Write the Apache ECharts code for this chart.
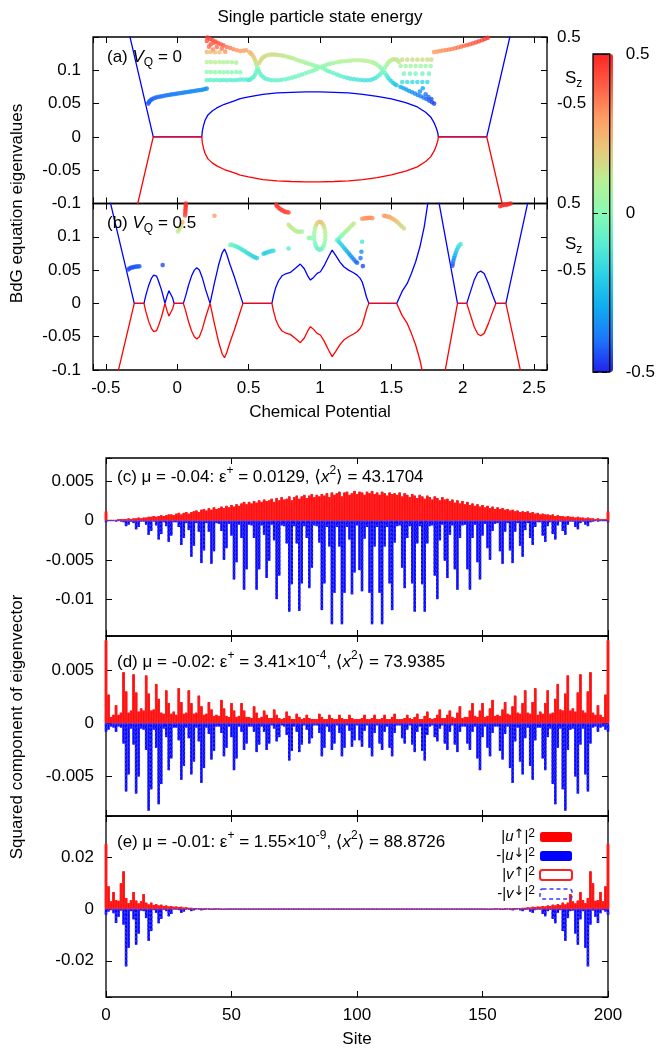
<!DOCTYPE html>
<html>
<head>
<meta charset="utf-8">
<script src="https://cdn.jsdelivr.net/npm/echarts@6/dist/echarts.min.js"></script>
<style>
html,body{margin:0;padding:0;background:#ffffff;}
#chart{width:658px;height:1053px;}
</style>
</head>
<body>
<div id="chart"></div>
<script>
// ================= DATA =================
// Panel (a) V_Q = 0 : lowest BdG eigenvalue (+E, blue) and its partner (-E, red) vs chemical potential
const aPosE = [[-0.333,0.152],[-0.168,0],[0.172,0],[0.176,0.009],[0.184,0.017],[0.195,0.025],[0.215,0.033],[0.245,0.039],[0.277,0.0435],[0.33,0.049],[0.4,0.054],[0.441,0.0575],[0.5,0.06],[0.6,0.064],[0.7,0.066],[0.8,0.067],[0.9,0.0675],[1.0,0.0675],[1.1,0.067],[1.2,0.066],[1.3,0.064],[1.4,0.061],[1.5,0.057],[1.6,0.0515],[1.682,0.045],[1.74,0.037],[1.775,0.03],[1.8,0.021],[1.815,0.013],[1.825,0.006],[1.829,0],[2.168,0],[2.332,0.152]];
const aNegE = [[-0.333,-0.152],[-0.168,0],[0.172,0],[0.176,-0.009],[0.184,-0.017],[0.195,-0.025],[0.215,-0.033],[0.245,-0.039],[0.277,-0.0435],[0.33,-0.049],[0.4,-0.054],[0.441,-0.0575],[0.5,-0.06],[0.6,-0.064],[0.7,-0.066],[0.8,-0.067],[0.9,-0.0675],[1.0,-0.0675],[1.1,-0.067],[1.2,-0.066],[1.3,-0.064],[1.4,-0.061],[1.5,-0.057],[1.6,-0.0515],[1.682,-0.045],[1.74,-0.037],[1.775,-0.03],[1.8,-0.021],[1.815,-0.013],[1.825,-0.006],[1.829,0],[2.168,0],[2.332,-0.152]];
// Panel (b) V_Q = 0.5
const bPosE = [[-0.47,0.153],[-0.301,0],[-0.233,0],[-0.22,0.012],[-0.2,0.027],[-0.18,0.038],[-0.165,0.0425],[-0.156,0.0435],[-0.145,0.041],[-0.13,0.033],[-0.11,0.02],[-0.095,0.008],[-0.086,0],[-0.07,0.012],[-0.058,0.019],[-0.051,0.02],[-0.044,0.017],[-0.032,0.008],[-0.022,0],[0.043,0],[0.06,0.012],[0.08,0.028],[0.1,0.041],[0.12,0.05],[0.137,0.0535],[0.155,0.05],[0.175,0.039],[0.2,0.02],[0.23,0],[0.26,0.03],[0.29,0.058],[0.315,0.076],[0.331,0.0815],[0.345,0.075],[0.37,0.058],[0.4,0.04],[0.43,0.02],[0.46,0],[0.663,0],[0.675,0.012],[0.69,0.024],[0.71,0.034],[0.734,0.0415],[0.76,0.0445],[0.792,0.0465],[0.83,0.053],[0.862,0.059],[0.89,0.052],[0.915,0.041],[0.933,0.035],[0.955,0.039],[0.98,0.045],[1.003,0.0475],[1.03,0.057],[1.06,0.07],[1.085,0.08],[1.11,0.072],[1.14,0.062],[1.167,0.055],[1.2,0.05],[1.235,0.046],[1.26,0.0425],[1.28,0.038],[1.295,0.0325],[1.31,0.022],[1.325,0.01],[1.342,0],[1.537,0],[1.575,0.018],[1.611,0.03],[1.64,0.045],[1.67,0.0625],[1.7,0.085],[1.73,0.115],[1.757,0.153],[1.832,0.153],[1.963,0],[2.028,0],[2.05,0.015],[2.08,0.035],[2.105,0.046],[2.126,0.0485],[2.15,0.045],[2.18,0.03],[2.21,0.012],[2.232,0],[2.302,0],[2.457,0.153]];
const bNegE = [[-0.47,-0.153],[-0.301,0],[-0.233,0],[-0.22,-0.012],[-0.2,-0.027],[-0.18,-0.038],[-0.165,-0.0425],[-0.156,-0.0435],[-0.145,-0.041],[-0.13,-0.033],[-0.11,-0.02],[-0.095,-0.008],[-0.086,0],[-0.07,-0.012],[-0.058,-0.019],[-0.051,-0.02],[-0.044,-0.017],[-0.032,-0.008],[-0.022,0],[0.043,0],[0.06,-0.012],[0.08,-0.028],[0.1,-0.041],[0.12,-0.05],[0.137,-0.0535],[0.155,-0.05],[0.175,-0.039],[0.2,-0.02],[0.23,0],[0.26,-0.03],[0.29,-0.058],[0.315,-0.076],[0.331,-0.0815],[0.345,-0.075],[0.37,-0.058],[0.4,-0.04],[0.43,-0.02],[0.46,0],[0.663,0],[0.675,-0.012],[0.69,-0.024],[0.71,-0.034],[0.734,-0.0415],[0.76,-0.0445],[0.792,-0.0465],[0.83,-0.053],[0.862,-0.059],[0.89,-0.052],[0.915,-0.041],[0.933,-0.035],[0.955,-0.039],[0.98,-0.045],[1.003,-0.0475],[1.03,-0.057],[1.06,-0.07],[1.085,-0.08],[1.11,-0.072],[1.14,-0.062],[1.167,-0.055],[1.2,-0.05],[1.235,-0.046],[1.26,-0.0425],[1.28,-0.038],[1.295,-0.0325],[1.31,-0.022],[1.325,-0.01],[1.342,0],[1.537,0],[1.575,-0.018],[1.611,-0.03],[1.64,-0.045],[1.67,-0.0625],[1.7,-0.085],[1.73,-0.115],[1.757,-0.153],[1.832,-0.153],[1.963,0],[2.028,0],[2.05,-0.015],[2.08,-0.035],[2.105,-0.046],[2.126,-0.0485],[2.15,-0.045],[2.18,-0.03],[2.21,-0.012],[2.232,0],[2.302,0],[2.457,-0.153]];

// Single particle states: [chemical potential, energy, S_z]
const aStates = [
[-0.203,0.050,-0.43],[-0.199,0.052,-0.43],[-0.193,0.054,-0.42],[-0.185,0.0555,-0.42],[-0.175,0.057,-0.42],[-0.163,0.058,-0.41],[-0.15,0.059,-0.41],[-0.135,0.06,-0.41],[-0.12,0.0605,-0.4],[-0.105,0.061,-0.4],[-0.09,0.0617,-0.4],[-0.075,0.0625,-0.39],[-0.06,0.063,-0.39],[-0.045,0.0635,-0.39],[-0.03,0.064,-0.38],[-0.015,0.0645,-0.38],[0,0.065,-0.38],[0.015,0.0655,-0.37],[0.03,0.066,-0.37],[0.045,0.0665,-0.37],[0.06,0.067,-0.37],[0.075,0.0675,-0.36],[0.09,0.068,-0.36],[0.105,0.0685,-0.36],[0.12,0.069,-0.36],[0.135,0.0695,-0.35],[0.15,0.07,-0.35],[0.165,0.0705,-0.35],[0.18,0.071,-0.35],[0.195,0.072,-0.35],[0.207,0.0725,-0.35],
[0.195,0.151,0.47],[0.211,0.149,0.46],[0.23,0.147,0.45],[0.249,0.145,0.44],[0.268,0.143,0.43],[0.286,0.141,0.42],[0.305,0.139,0.41],[0.324,0.1375,0.4],
[0.347,0.135,0.37],[0.371,0.1335,0.35],[0.394,0.1315,0.33],[0.418,0.13,0.31],[0.441,0.129,0.3],[0.464,0.1295,0.29],[0.483,0.13,0.28],
[0.207,0.144,0.42],[0.235,0.139,0.41],[0.258,0.1415,0.4],[0.277,0.135,0.38],[0.222,0.1355,0.38],[0.312,0.1325,0.36],[0.25,0.131,0.34],[0.336,0.128,0.32],
[0.207,0.1275,0.24],[0.235,0.1275,0.23],[0.265,0.127,0.22],[0.296,0.127,0.22],
[0.207,0.1125,0.1],[0.235,0.1125,0.1],[0.265,0.112,0.1],[0.296,0.1125,0.09],[0.324,0.112,0.09],[0.352,0.1125,0.09],[0.382,0.112,0.08],[0.413,0.1115,0.08],
[0.207,0.0975,0.02],[0.235,0.0975,0.02],[0.265,0.097,0.02],[0.296,0.0975,0.01],[0.324,0.097,0.01],[0.352,0.0975,0.01],[0.382,0.097,0],[0.413,0.0975,0],[0.441,0.097,0],
[0.207,0.085,-0.08],[0.23,0.0855,-0.08],[0.254,0.085,-0.08],[0.277,0.0855,-0.08],[0.301,0.085,-0.09],[0.324,0.0855,-0.09],[0.347,0.085,-0.09],[0.371,0.0855,-0.09],[0.394,0.085,-0.1],[0.418,0.0855,-0.1],[0.441,0.086,-0.1],[0.464,0.086,-0.1],[0.488,0.086,-0.1],
[0.507,0.127,0.26],[0.518,0.125,0.24],[0.528,0.1225,0.22],[0.537,0.119,0.2],[0.544,0.116,0.17],[0.549,0.113,0.15],[0.553,0.11,0.12],[0.558,0.107,0.09],
[0.5,0.0855,-0.1],[0.511,0.086,-0.1],[0.523,0.088,-0.09],[0.535,0.09,-0.08],[0.544,0.093,-0.07],[0.551,0.096,-0.06],[0.557,0.1,-0.04],[0.563,0.104,0.02],
[0.574,0.111,0.17],[0.583,0.1145,0.17],[0.593,0.1175,0.16],[0.605,0.12,0.16],[0.617,0.1215,0.16],[0.634,0.123,0.15],[0.652,0.1235,0.15],[0.67,0.1237,0.15],[0.687,0.1235,0.14],[0.705,0.123,0.14],[0.722,0.1225,0.13],[0.74,0.122,0.13],[0.757,0.121,0.12],[0.775,0.12,0.12],[0.792,0.119,0.11],[0.81,0.118,0.11],[0.827,0.1165,0.1],[0.845,0.115,0.09],[0.862,0.114,0.09],[0.88,0.1128,0.08],[0.897,0.1115,0.07],[0.915,0.1102,0.06],[0.933,0.109,0.05],[0.95,0.1078,0.04],[0.968,0.1065,0.03],[0.985,0.1055,0.02],[1.003,0.1045,0.01],
[0.568,0.1,-0.04],[0.574,0.0975,-0.05],[0.583,0.0945,-0.06],[0.593,0.0915,-0.07],[0.608,0.089,-0.08],[0.624,0.087,-0.08],[0.643,0.086,-0.08],[0.663,0.085,-0.08],[0.687,0.085,-0.08],[0.71,0.085,-0.07],[0.733,0.0857,-0.07],[0.757,0.0865,-0.06],[0.78,0.0877,-0.06],[0.804,0.089,-0.05],[0.827,0.0905,-0.05],[0.851,0.092,-0.04],[0.874,0.0937,-0.04],[0.897,0.0955,-0.03],[0.92,0.0972,-0.02],[0.944,0.099,-0.02],[0.962,0.1005,-0.01],[0.979,0.102,0],
[1.02,0.106,0.02],[1.038,0.1075,0.03],[1.055,0.109,0.04],[1.073,0.11,0.05],[1.096,0.111,0.06],[1.12,0.112,0.07],[1.143,0.113,0.08],[1.167,0.1135,0.08],[1.19,0.114,0.09],[1.213,0.1145,0.09],[1.237,0.115,0.1],[1.26,0.115,0.1],[1.284,0.115,0.1],[1.307,0.1145,0.1],[1.33,0.114,0.1],[1.354,0.113,0.09],[1.372,0.1115,0.08],[1.389,0.11,0.07],[1.405,0.1075,0.05],[1.419,0.105,0.03],[1.432,0.1025,0.01],[1.443,0.1,-0.01],
[1.02,0.103,-0.01],[1.038,0.101,-0.02],[1.055,0.099,-0.04],[1.073,0.0975,-0.05],[1.096,0.0955,-0.07],[1.12,0.0935,-0.08],[1.143,0.0917,-0.09],[1.167,0.09,-0.1],[1.19,0.0887,-0.11],[1.213,0.0875,-0.12],[1.237,0.0867,-0.12],[1.26,0.086,-0.13],[1.284,0.0855,-0.13],[1.307,0.085,-0.14],[1.33,0.085,-0.14],[1.354,0.0855,-0.14],[1.372,0.087,-0.13],[1.389,0.0885,-0.12],[1.405,0.091,-0.1],[1.419,0.0935,-0.08],[1.432,0.0965,-0.05],
[1.455,0.104,0.03],[1.466,0.1075,0.06],[1.476,0.111,0.08],[1.487,0.1135,0.1],[1.5,0.1155,0.11],[1.513,0.1165,0.12],[1.525,0.1165,0.12],[1.536,0.116,0.12],[1.545,0.1145,0.11],[1.553,0.1125,0.1],
[1.455,0.096,-0.06],[1.466,0.0925,-0.1],[1.476,0.089,-0.13],[1.487,0.086,-0.15],[1.5,0.0835,-0.18],[1.513,0.081,-0.2],[1.525,0.079,-0.21],[1.536,0.0775,-0.22],
[1.576,0.116,0.15],[1.611,0.116,0.15],[1.647,0.116,0.15],[1.682,0.116,0.15],[1.717,0.116,0.15],[1.752,0.116,0.14],[1.78,0.116,0.14],
[1.565,0.1065,0.05],[1.6,0.1065,0.05],[1.635,0.1065,0.05],[1.67,0.1065,0.05],[1.705,0.1065,0.04],[1.74,0.1065,0.04],[1.775,0.1065,0.04],
[1.588,0.095,-0.03],[1.63,0.095,-0.03],[1.67,0.095,-0.03],[1.717,0.095,-0.04],[1.764,0.095,-0.04],
[1.576,0.0825,-0.15],[1.611,0.0825,-0.15],[1.647,0.0825,-0.16],[1.682,0.0825,-0.16],[1.717,0.0825,-0.17],[1.752,0.0825,-0.17],
[1.565,0.075,-0.3],[1.585,0.073,-0.31],[1.605,0.071,-0.32],[1.625,0.069,-0.33],[1.645,0.067,-0.34],[1.665,0.065,-0.36],[1.685,0.063,-0.37],[1.705,0.061,-0.38],[1.725,0.059,-0.4],[1.745,0.057,-0.41],[1.765,0.0545,-0.43],[1.785,0.052,-0.45],[1.799,0.05,-0.46],
[1.7,0.068,-0.35],[1.74,0.064,-0.4],[1.76,0.06,-0.42],[1.78,0.057,-0.44],[1.72,0.073,-0.3],
[1.799,0.1275,0.3],[1.82,0.128,0.3],[1.841,0.1288,0.31],[1.862,0.1297,0.32],[1.883,0.1305,0.33],[1.904,0.1313,0.34],[1.925,0.132,0.34],[1.946,0.133,0.35],[1.967,0.1342,0.36],[1.988,0.1355,0.37],[2.009,0.1368,0.38],[2.03,0.138,0.39],[2.051,0.1392,0.4],[2.072,0.1405,0.41],[2.093,0.142,0.42],[2.114,0.1435,0.43],[2.135,0.1452,0.44],[2.155,0.147,0.46],[2.175,0.1487,0.47],[2.197,0.1505,0.48]
];
const bStates = [
[-0.343,0.051,-0.45],[-0.335,0.0525,-0.45],[-0.325,0.0535,-0.44],[-0.315,0.054,-0.44],[-0.305,0.0545,-0.44],[-0.295,0.055,-0.43],[-0.285,0.0553,-0.43],[-0.275,0.0555,-0.43],[-0.265,0.0558,-0.42],
[-0.102,0.0575,-0.45],
[0.005,0.108,0.1],[0.012,0.111,0.12],[0.02,0.114,0.14],[0.028,0.118,0.18],[0.036,0.122,0.25],
[0.055,0.132,0.42],[0.056,0.135,0.44],[0.057,0.138,0.45],[0.058,0.141,0.46],[0.059,0.144,0.47],[0.06,0.147,0.48],[0.06,0.15,0.48],
[0.261,0.1315,0.3],
[0.371,0.0875,-0.03],[0.382,0.0885,-0.05],[0.394,0.087,-0.06],[0.406,0.086,-0.08],[0.418,0.085,-0.09],[0.429,0.084,-0.1],[0.441,0.0825,-0.11],[0.453,0.081,-0.12],[0.464,0.0795,-0.13],[0.476,0.078,-0.14],[0.488,0.076,-0.15],[0.5,0.0745,-0.16],[0.511,0.073,-0.16],[0.523,0.0715,-0.17],[0.535,0.07,-0.18],[0.546,0.069,-0.18],[0.558,0.068,-0.19],
[0.605,0.0745,-0.2],[0.617,0.0755,-0.2],[0.629,0.0765,-0.19],[0.64,0.0775,-0.18],[0.652,0.078,-0.17],[0.664,0.079,-0.16],[0.675,0.079,-0.15],
[0.78,0.0825,-0.1],
[0.694,0.148,0.47],[0.7,0.146,0.46],[0.71,0.1435,0.46],[0.722,0.1415,0.45],[0.734,0.14,0.45],[0.746,0.1385,0.44],[0.757,0.1375,0.44],[0.769,0.137,0.43],[0.78,0.1365,0.43],
[0.78,0.118,0.14],[0.792,0.1155,0.13],[0.804,0.113,0.12],[0.816,0.111,0.11],[0.827,0.109,0.1],[0.839,0.108,0.1],[0.851,0.1075,0.09],[0.863,0.1075,0.09],[0.874,0.108,0.08],[0.921,0.0985,0.02],[0.933,0.098,0.02],
[1.038,0.1015,0.08],[1.036,0.1069,0.1],[1.032,0.112,0.12],[1.026,0.1163,0.15],[1.018,0.1197,0.18],[1.008,0.1218,0.2],[0.998,0.1225,0.22],[0.988,0.1218,0.2],[0.978,0.1197,0.18],[0.97,0.1163,0.14],[0.964,0.112,0.1],[0.96,0.1069,0.06],[0.958,0.1015,0.03],[0.96,0.0961,0.0],[0.964,0.091,-0.02],[0.97,0.0867,-0.04],[0.978,0.0833,-0.05],[0.988,0.0812,-0.06],[0.998,0.0805,-0.06],[1.008,0.0812,-0.05],[1.018,0.0833,-0.03],[1.026,0.0867,0.0],[1.032,0.091,0.03],[1.036,0.0961,0.06],
[1.12,0.095,-0.08],[1.132,0.0975,-0.05],[1.143,0.1,-0.02],[1.155,0.1025,0.0],[1.167,0.105,0.03],[1.178,0.1075,0.05],[1.19,0.11,0.07],[1.202,0.1125,0.09],[1.213,0.115,0.1],[1.225,0.1175,0.11],[1.237,0.12,0.12],
[1.132,0.0925,-0.15],[1.143,0.09,-0.18],[1.155,0.087,-0.2],[1.167,0.084,-0.22],[1.178,0.081,-0.25],[1.19,0.078,-0.27],[1.202,0.075,-0.3],[1.213,0.072,-0.32],[1.225,0.069,-0.35],[1.237,0.066,-0.37],[1.249,0.063,-0.4],[1.26,0.061,-0.42],
[1.295,0.0925,-0.12],[1.29,0.0775,-0.35],[1.3,0.056,-0.45],[1.284,0.068,-0.4],
[1.295,0.127,0.3],[1.307,0.1275,0.31],[1.319,0.128,0.31],[1.33,0.128,0.32],[1.342,0.1285,0.32],[1.354,0.1285,0.32],[1.366,0.128,0.32],
[1.448,0.1315,0.3],[1.46,0.131,0.29],[1.471,0.1305,0.28],[1.483,0.13,0.27],[1.494,0.129,0.26],[1.506,0.1275,0.25],[1.518,0.126,0.24],[1.53,0.124,0.22],[1.541,0.122,0.2],[1.553,0.12,0.19],[1.565,0.117,0.17],[1.576,0.115,0.16],[1.588,0.1125,0.15],
[1.927,0.0565,-0.45],[1.93,0.06,-0.42],[1.934,0.064,-0.38],[1.939,0.068,-0.34],[1.945,0.072,-0.3],[1.951,0.076,-0.26],[1.958,0.08,-0.22],[1.966,0.084,-0.18],[1.975,0.087,-0.15],[1.985,0.089,-0.12],
[2.262,0.146,0.48],[2.275,0.147,0.48],[2.29,0.148,0.49],[2.305,0.148,0.49],[2.32,0.149,0.5],[2.335,0.15,0.5]
];

// Eigenvector components per site 0..200, in units of 1e-4
const SITE_UNIT = 1e-4;
const cUp = [12,1,1,1,1,2,2,2,2,3, 2,3,3,4,3,4,4,5,5,6, 5,6,7,6,7,8,8,7,9,10, 8,10,11,9,11,12,13,11,14,15, 13,16,14,17,15,16,18,16,19,17, 20,18,21,19,22,24,21,24,22,25, 23,26,24,27,25,26,28,24,29,26, 30,27,28,31,26,30,32,28,31,33, 29,32,34,30,33,31,34,32,35,30, 36,33,35,37,31,36,37,33,35,38, 34,37,36,33,37,35,38,34,36,33, 37,35,32,36,34,35,33,36,31,35, 33,30,34,32,29,33,31,28,32,30, 27,31,29,26,30,27,28,25,27,23, 26,22,25,21,24,20,22,19,21,18, 20,17,19,16,18,15,17,15,16,14, 15,13,14,12,13,11,12,11,12,10, 11,9,10,8,9,8,8,7,8,6, 7,6,6,5,6,5,5,4,5,4, 4,3,4,3,3,2,3,2,2,2, 12];
const cDn = [-2,0,0,0,-1,0,-1,-2,-7,-5, -1,-3,-11,-8,-1,-1,-5,-18,-13,-1, -6,-24,-17,-2,-7,-27,-19,-2,-2,-8, -31,-22,-3,-12,-46,-32,-3,-14,-54,-38, -3,-14,-55,-39,-3,-4,-13,-50,-35,-4, -19,-75,-53,-5,-22,-88,-62,-5,-6,-22, -88,-62,-6,-18,-73,-51,-5,-25,-100,-70, -6,-7,-29,-116,-81,-7,-29,-115,-80,-7, -22,-86,-60,-6,-7,-28,-114,-80,-8,-33, -132,-92,-8,-33,-132,-92,-8,-24,-94,-66, -6,-63,-90,-23,-8,-92,-132,-33,-8,-92, -132,-33,-8,-80,-114,-28,-7,-6,-60,-86, -22,-7,-80,-116,-29,-7,-81,-116,-29,-7, -6,-70,-100,-25,-5,-51,-73,-18,-6,-62, -88,-22,-6,-5,-62,-88,-22,-5,-53,-75, -19,-4,-35,-50,-13,-4,-3,-39,-55,-14, -3,-38,-54,-14,-3,-32,-46,-12,-3,-22, -31,-8,-2,-2,-19,-27,-7,-2,-17,-24, -6,-1,-13,-18,-5,-1,-1,-8,-11,-3, -1,-5,-7,-2,-1,0,-1,0,0,0, -2];
const dUp = [78,27,6,8,17,8,10,48,30,10, 12,46,29,11,14,12,45,28,12,13, 37,23,10,9,31,19,9,11,8,33, 20,9,10,31,19,9,10,26,16,8, 9,20,13,7,8,7,22,14,7,6, 19,12,6,7,19,12,6,6,5,16, 10,5,6,12,8,5,5,13,8,5, 4,5,11,7,4,4,9,6,4,5, 8,5,4,4,4,9,6,4,4,8, 5,4,4,8,5,4,4,8,5,4, 4, 4,5,8,4,4,5,8,4,4,5, 8,4,4,6,9,4,4,4,5,8, 5,4,6,9,4,4,7,11,5,4, 5,8,13,5,5,8,12,6,5,10, 16,5,6,6,12,19,7,6,12,19, 6,7,14,22,7,8,7,13,20,9, 8,16,26,10,9,19,31,10,9,20, 33,8,11,9,19,31,9,10,23,37, 13,12,28,45,12,14,11,29,46,12, 10,30,48,10,8,17,8,6,27,78];
const dDn = [-8,-6,-3,-4,-8,-3,-4,-19,-64,-48, -5,-20,-66,-50,-5,-6,-25,-82,-62,-6, -23,-76,-57,-5,-13,-44,-33,-4,-4,-16, -53,-40,-4,-14,-48,-36,-4,-17,-56,-42, -4,-10,-34,-26,-3,-3,-9,-31,-23,-3, -13,-44,-33,-3,-8,-25,-19,-3,-3,-8, -27,-20,-3,-8,-25,-19,-2,-5,-17,-13, -2,-3,-11,-35,-26,-3,-8,-27,-20,-2, -6,-19,-14,-2,-2,-9,-31,-23,-3,-8, -25,-19,-2,-9,-31,-23,-2,-7,-22,-16, -2,-16,-22,-7,-2,-23,-31,-9,-2,-19, -25,-8,-3,-23,-31,-9,-2,-2,-14,-19, -6,-2,-20,-27,-8,-3,-26,-35,-11,-3, -2,-13,-17,-5,-2,-19,-25,-8,-2,-20, -27,-8,-3,-3,-19,-25,-8,-3,-33,-44, -13,-3,-23,-31,-9,-3,-3,-26,-34,-10, -3,-42,-56,-17,-4,-36,-48,-14,-4,-40, -53,-16,-4,-4,-33,-44,-13,-5,-57,-76, -23,-5,-62,-82,-25,-6,-5,-50,-66,-20, -5,-48,-64,-19,-4,-3,-8,-4,-3,-6, -8];
const eUp = [252,88,30,66,35,32,100,146,43,23, 35,66,33,22,30,58,25,18,25,16, 19,14,17,12,14,10,12,9,10,8, 9,6,7,5,5,4,4,3,3,2, 2,2,1,1,1,1,0,0,0,0,
0,0,0,0,0,0,0,0,0,0, 0,0,0,0,0,0,0,0,0,0, 0,0,0,0,0,0,0,0,0,0, 0,0,0,0,0,0,0,0,0,0, 0,0,0,0,0,0,0,0,0,0, 0,0,0,0,0,0,0,0,0,0, 0,0,0,0,0,0,0,0,0,0, 0,0,0,0,0,0,0,0,0,0, 0,0,0,0,0,0,0,0,0,0, 0,0,0,0,0,0,0,0,0,0, 0,
0,0,0,0,1,1,1,1,2,2, 2,3,3,4,4,5,5,7,6,9, 8,10,9,12,10,14,12,17,14,19, 16,25,18,25,58,30,22,33,66,35, 23,43,146,100,32,35,66,30,88,252];
const eDn = [-22,-10,-4,-16,-54,-30,-6,-60,-222,-150, -8,-40,-138,-95,-6,-8,-35,-123,-85,-4, -15,-55,-38,-2,-8,-28,-19,-1,-1,-4, -15,-10,-1,-2,-8,-5,0,-1,-5,-3, 0,-1,-3,-2,0,0,-1,-2,-1,0,
0,0,0,0,0,0,0,0,0,0, 0,0,0,0,0,0,0,0,0,0, 0,0,0,0,0,0,0,0,0,0, 0,0,0,0,0,0,0,0,0,0, 0,0,0,0,0,0,0,0,0,0, 0,0,0,0,0,0,0,0,0,0, 0,0,0,0,0,0,0,0,0,0, 0,0,0,0,0,0,0,0,0,0, 0,0,0,0,0,0,0,0,0,0, 0,0,0,0,0,0,0,0,0,0, 0,
0,-1,-2,-1,0,0,-2,-3,-1,0, -3,-5,-1,0,-5,-8,-2,-1,-10,-15, -4,-1,-1,-19,-28,-8,-2,-38,-55,-15, -4,-85,-123,-35,-8,-6,-95,-138,-40,-8, -150,-222,-60,-6,-30,-54,-16,-4,-10,-22];

const panelLabels = [
  '(a) {i|V}{sub|Q} = 0',
  '(b) {i|V}{sub|Q} = 0.5',
  '(c) μ = -0.04: ε{sup|+} = 0.0129, ⟨{i|x}{sup|2}⟩ = 43.1704',
  '(d) μ = -0.02: ε{sup|+} = 3.41×10{sup|-4}, ⟨{i|x}{sup|2}⟩ = 73.9385',
  '(e) μ = -0.01: ε{sup|+} = 1.55×10{sup|-9}, ⟨{i|x}{sup|2}⟩ = 88.8726'
];
const legendNames = ['uu','ud','vu','vd'];
const legendLabels = {uu:'|{i|u}{ar|↑}|{sp|2}', ud:'-|{i|u}{ar|↓}|{sp|2}', vu:'|{i|v}{ar|↑}|{sp|2}', vd:'-|{i|v}{ar|↓}|{sp|2}'};

// ================= CHART =================
const FONT = 'Liberation Sans, DejaVu Sans, sans-serif';
const FS = 17;
const chart = echarts.init(document.getElementById('chart'), null, {renderer:'canvas'});

const toSites = arr => arr.map((v, i) => [i, v * SITE_UNIT]);
const num = v => String(parseFloat(v.toFixed(6)));
const stepFmt = step => v => { const r = v / step; return Math.abs(r - Math.round(r)) < 1e-6 ? num(v) : ''; };
const tick = {show:true, inside:true, length:6, lineStyle:{color:'#000', width:1}};
const hiddenLine = {show:false, onZero:false};
const lbl = (fmt, extra) => Object.assign({show:true, color:'#000', fontSize:FS, fontFamily:FONT, formatter:fmt}, extra||{});
const noLbl = {show:false};

const grids = [
  {left:93, width:454, top:37, height:166.5},
  {left:93, width:454, top:203.5, height:166.5},
  {left:106, width:502, top:458, height:178},
  {left:106, width:502, top:636, height:180},
  {left:106, width:502, top:816, height:181},
  {left:593, width:20, top:54, height:318, z:10}
].map(g => Object.assign({show:true, borderColor:'#000', borderWidth:1.3, backgroundColor:'transparent'}, g));

const muAxis = (gi, pos, showLabels) => ({
  type:'value', gridIndex:gi, position:pos, min:-0.59, max:2.59, minInterval:0.5, maxInterval:0.5,
  axisLine:hiddenLine, axisTick:tick, splitLine:{show:false},
  axisLabel: showLabels ? lbl(stepFmt(0.5), {margin:10}) : noLbl,
  name: showLabels ? 'Chemical Potential' : '', nameLocation:'middle', nameGap:34,
  nameTextStyle:{color:'#000', fontSize:FS, fontFamily:FONT}
});
const siteAxis = (gi, pos, showLabels) => ({
  type:'value', gridIndex:gi, position:pos, min:0, max:200, interval:50,
  axisLine:hiddenLine, axisTick:tick, splitLine:{show:false},
  axisLabel: showLabels ? lbl(num, {margin:10}) : noLbl,
  name: showLabels ? 'Site' : '', nameLocation:'middle', nameGap:34,
  nameTextStyle:{color:'#000', fontSize:FS, fontFamily:FONT}
});
const eAxis = gi => ({
  type:'value', gridIndex:gi, position:'left', min:-0.1, max:0.15, interval:0.05,
  axisLine:hiddenLine, axisTick:tick, splitLine:{show:false},
  axisLabel: lbl(v => (Math.abs(v-0.15)<1e-9) ? '' : num(v), {margin:12})
});
const szAxis = gi => ({
  type:'value', gridIndex:gi, position:'right', min:-2, max:0.5, interval:0.5,
  axisLine:hiddenLine, axisTick:tick, splitLine:{show:false},
  axisLabel: lbl(v => (Math.abs(v-0.5)<1e-9 ? '0.5' : (Math.abs(v+0.5)<1e-9 ? '-0.5' : '')), {margin:10})
});
const ampAxis = (gi, min, max, step, pos, showLabels) => ({
  type:'value', gridIndex:gi, position:pos, min:min, max:max, minInterval:step, maxInterval:step,
  axisLine:hiddenLine, axisTick:tick, splitLine:{show:false},
  axisLabel: showLabels ? lbl(stepFmt(step), {margin:12}) : noLbl
});

const xAxes = [
  muAxis(0,'bottom',false), muAxis(0,'top',false),
  muAxis(1,'bottom',true), muAxis(1,'top',false),
  siteAxis(2,'bottom',false), siteAxis(2,'top',false),
  siteAxis(3,'bottom',false), siteAxis(3,'top',false),
  siteAxis(4,'bottom',true), siteAxis(4,'top',false),
  {type:'value', gridIndex:5, show:false, min:0, max:1}
];
const yAxes = [
  eAxis(0), szAxis(0),
  eAxis(1), szAxis(1),
  ampAxis(2,-0.0147,0.008,0.005,'left',true), ampAxis(2,-0.0147,0.008,0.005,'right',false),
  ampAxis(3,-0.0087,0.0082,0.005,'left',true), ampAxis(3,-0.0087,0.0082,0.005,'right',false),
  ampAxis(4,-0.034,0.036,0.02,'left',true), ampAxis(4,-0.034,0.036,0.02,'right',false),
  {type:'value', gridIndex:5, position:'right', min:-0.5, max:0.5, interval:0.5, z:10,
   axisLine:hiddenLine, axisTick:{show:false},
   splitLine:{show:true, lineStyle:{color:'#000', type:[5,4], width:1}},
   axisLabel: lbl(num, {margin:16})}
];

const lineS = (xi, yi, data, color) => ({type:'line', xAxisIndex:xi, yAxisIndex:yi, data:data, showSymbol:false, symbol:'none', clip:true,
  lineStyle:{color:color, width:1.3}, z:2, silent:true});
const scatS = (xi, yi, data) => ({type:'scatter', xAxisIndex:xi, yAxisIndex:yi, data:data, symbolSize:4.6, clip:true, z:3, silent:true});

const barSet = (xi, up, dn) => [
  {name:'uu', type:'bar', xAxisIndex:xi, yAxisIndex:xi, data:toSites(up), barWidth:2.5, barGap:'-100%', itemStyle:{color:'#ff0000'}, z:2},
  {name:'ud', type:'bar', xAxisIndex:xi, yAxisIndex:xi, data:toSites(dn), barWidth:2.5, barGap:'-100%', itemStyle:{color:'#0000ff'}, z:2},
  {name:'vu', type:'bar', xAxisIndex:xi, yAxisIndex:xi, data:toSites(up), barWidth:2.5, barGap:'-100%', itemStyle:{color:'rgba(255,255,255,0)', borderColor:'#ff2020', borderWidth:1}, z:3},
  {name:'vd', type:'bar', xAxisIndex:xi, yAxisIndex:xi, data:toSites(dn), barWidth:2.5, barGap:'-100%', itemStyle:{color:'rgba(255,255,255,0)', borderColor:'#3a3aff', borderWidth:1, borderType:[2,2]}, z:3}
];

const series = [
  lineS(0, 0, aPosE, '#0000ff'), lineS(0, 0, aNegE, '#ff0000'),
  lineS(2, 2, bPosE, '#0000ff'), lineS(2, 2, bNegE, '#ff0000'),
  scatS(0, 0, aStates), scatS(2, 2, bStates)
].concat(barSet(4, cUp, cDn), barSet(6, dUp, dDn), barSet(8, eUp, eDn));

const rich = {
  i:{fontStyle:'italic', fontSize:FS, fontFamily:FONT, lineHeight:24},
  sub:{fontSize:12, fontFamily:FONT, lineHeight:15, verticalAlign:'bottom'},
  sup:{fontSize:12, fontFamily:FONT, lineHeight:13, verticalAlign:'top'}
};
const txt = (x, y, text, extra) => ({type:'text', x:x, y:y, z:100, silent:true,
  style:Object.assign({text:text, fill:'#000', fontSize:FS, fontFamily:FONT, lineHeight:24, verticalAlign:'middle', align:'left', rich:rich}, extra||{})});

const graphics = [
  txt(320, 17, 'Single particle state energy', {align:'center'}),
  Object.assign(txt(17, 203.5, 'BdG equation eigenvalues', {align:'center'}), {rotation:Math.PI/2}),
  Object.assign(txt(17, 727, 'Squared component of eigenvector', {align:'center'}), {rotation:Math.PI/2}),
  txt(565, 78, 'S{sub|z}'),
  txt(565, 244, 'S{sub|z}'),
  txt(107, 57, panelLabels[0]),
  txt(107, 223, panelLabels[1]),
  txt(117, 477, panelLabels[2]),
  txt(117, 662, panelLabels[3]),
  txt(117, 842, panelLabels[4])
];

const option = {
  animation:false,
  backgroundColor:'#ffffff',
  textStyle:{fontFamily:FONT, color:'#000'},
  grid:grids,
  xAxis:xAxes,
  yAxis:yAxes,
  visualMap:{
    type:'continuous', min:-0.5, max:0.5, dimension:2, seriesIndex:[4,5],
    calculable:false, hoverLink:false, realtime:false, show:true,
    orient:'vertical', left:593, top:54, itemWidth:20, itemHeight:318, padding:0, text:null,
    inRange:{color:['#2222ee','#1e74fa','#10aaf0','#28cfe6','#58ecd2','#88fab4','#b8f094','#e8c87a','#ff9c64','#ff5e46','#ff2424']}
  },
  legend:{
    data:[{name:'uu'},{name:'ud'},{name:'vu'},{name:'vd', itemStyle:{borderType:[4,3], borderWidth:1.5}}],
    orient:'vertical', right:85, top:828, padding:0,
    itemWidth:32, itemHeight:10, itemGap:1, align:'right', selectedMode:false,
    formatter:name => legendLabels[name],
    textStyle:{fontSize:15, fontFamily:FONT, color:'#000', lineHeight:18,
      rich:{i:{fontStyle:'italic', fontSize:15, fontFamily:FONT, lineHeight:18},
            ar:{fontSize:13, fontFamily:'DejaVu Sans, sans-serif', lineHeight:12, verticalAlign:'top'},
            sp:{fontSize:12, fontFamily:FONT, lineHeight:11, verticalAlign:'top'}}}
  },
  graphic:graphics,
  series:series
};
chart.setOption(option);
</script>
</body>
</html>
